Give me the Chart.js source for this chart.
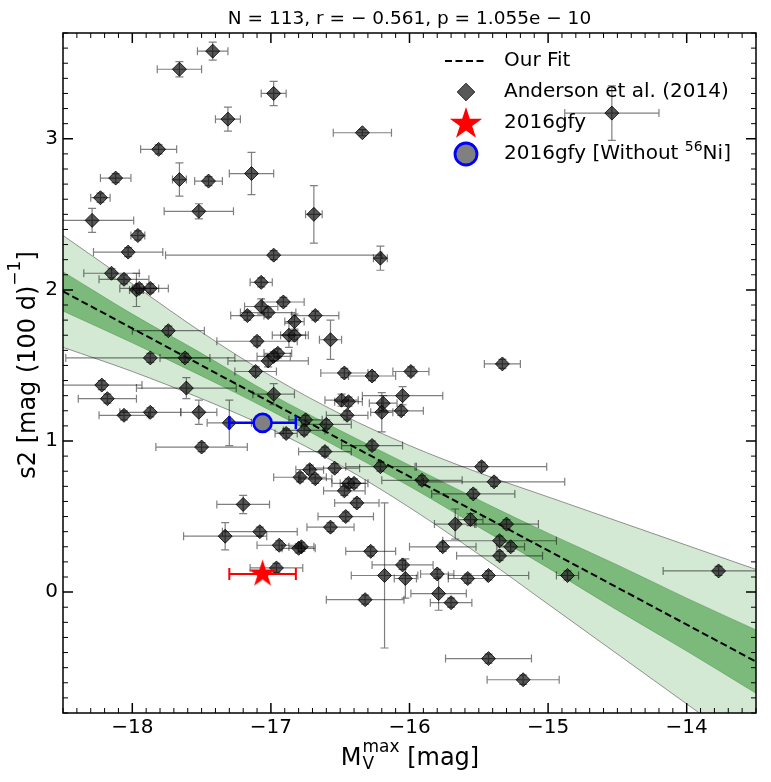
<!DOCTYPE html>
<html>
<head>
<meta charset="utf-8">
<script src="https://cdn.jsdelivr.net/npm/chart.js@4.4.0/dist/chart.umd.min.js"></script>
<style>
  html, body { margin: 0; padding: 0; background: #fff; }
  #wrap { width: 771px; height: 782px; position: relative; }
</style>
</head>
<body>
<div id="wrap"><canvas id="s2Chart"></canvas></div>
<script>
// Anderson et al. (2014): peak V magnitude, s2 decline and their errors
const andersonMv = [
  -17.42, -17.66, -16.98, -17.31, -16.34, -17.81, -17.66, -18.12, -17.45, -17.14,
  -18.23, -17.52, -16.69, -18.29, -17.96, -18.03, -16.98, -16.21, -14.54, -18.15,
  -18.06, -17.97, -17.95, -17.87, -17.07, -16.91, -17.07, -17.02, -17.17, -16.68,
  -16.83, -16.87, -16.83, -16.57, -17.10, -17.74, -16.95, -17.02, -16.98, -17.87,
  -17.62, -17.11, -18.22, -17.61, -18.18, -16.98, -18.06, -17.87, -17.52, -17.30,
  -17.50, -16.89, -16.75, -16.76, -16.60, -16.47, -16.27, -15.99, -16.49, -16.44,
  -16.19, -16.05, -16.45, -16.20, -16.06, -16.27, -16.61, -16.72, -16.54, -16.21,
  -16.79, -16.68, -15.91, -15.33, -15.48, -15.39, -16.44, -16.40, -16.47, -16.38,
  -15.54, -16.46, -16.57, -15.67, -15.56, -15.30, -15.35, -15.27, -15.35, -15.76,
  -14.86, -13.77, -16.78, -16.80, -16.28, -16.05, -16.18, -16.03, -15.80, -15.58,
  -15.43, -15.79, -15.70, -16.32, -17.20, -17.33, -17.08, -16.94, -16.96, -15.43,
  -15.18
];
const andersonS2 = [
  3.58, 3.46, 3.30, 3.13, 3.04, 2.93, 2.73, 2.74, 2.72, 2.77,
  2.61, 2.52, 2.50, 2.46, 2.36, 2.25, 2.23, 2.21, 3.17, 2.11,
  2.07, 2.00, 2.01, 2.01, 2.05, 1.92, 1.89, 1.85, 1.83, 1.83,
  1.79, 1.70, 1.70, 1.67, 1.66, 1.73, 1.58, 1.53, 1.56, 1.55,
  1.55, 1.46, 1.37, 1.35, 1.28, 1.31, 1.17, 1.19, 1.19, 1.12,
  0.96, 1.05, 1.14, 1.07, 1.11, 1.45, 1.43, 1.46, 1.27, 1.26,
  1.25, 1.30, 1.17, 1.19, 1.20, 0.97, 0.93, 0.81, 0.82, 0.83,
  0.76, 0.75, 0.74, 1.51, 0.83, 0.73, 0.72, 0.72, 0.67, 0.59,
  0.65, 0.50, 0.43, 0.45, 0.48, 0.45, 0.34, 0.30, 0.24, 0.30,
  0.11, 0.14, 0.30, 0.29, 0.27, 0.18, 0.11, 0.09, 0.12, 0.09,
  0.11, -0.01, -0.07, -0.05, 0.58, 0.37, 0.40, 0.31, 0.16, -0.44,
  -0.58
];
const andersonMvErr = [
  0.11, 0.16, 0.09, 0.09, 0.21, 0.13, 0.05, 0.11, 0.10, 0.16,
  0.07, 0.25, 0.06, 0.30, 0.05, 0.25, 0.78, 0.05, 0.34, 0.20,
  0.18, 0.05, 0.14, 0.13, 0.08, 0.15, 0.12, 0.20, 0.12, 0.17,
  0.07, 0.12, 0.10, 0.08, 0.29, 0.26, 0.10, 0.29, 0.12, 0.61,
  0.18, 0.15, 0.29, 0.36, 0.21, 0.15, 0.18, 0.22, 0.13, 0.16,
  0.33, 0.08, 0.12, 0.15, 0.18, 0.17, 0.17, 0.13, 0.12, 0.10,
  0.10, 0.29, 0.15, 0.08, 0.16, 0.22, 0.19, 0.10, 0.18, 0.25,
  0.19, 0.12, 0.29, 0.13, 0.47, 0.51, 0.12, 0.10, 0.15, 0.16,
  0.30, 0.20, 0.17, 0.15, 0.09, 0.23, 0.41, 0.10, 0.31, 0.24,
  0.08, 0.40, 0.09, 0.12, 0.18, 0.22, 0.24, 0.08, 0.12, 0.14,
  0.29, 0.20, 0.15, 0.28, 0.19, 0.30, 0.27, 0.16, 0.19, 0.31,
  0.26
];
const andersonS2Err = [
  0.06, 0.05, 0.08, 0.08, 0.02, 0.03, 0.11, 0.03, 0.03, 0.14,
  0.03, 0.05, 0.19, 0.08, 0.03, 0.03, 0.03, 0.08, 0.18, 0.03,
  0.03, 0.11, 0.03, 0.03, 0.03, 0.03, 0.05, 0.03, 0.03, 0.03,
  0.05, 0.08, 0.03, 0.13, 0.03, 0.03, 0.03, 0.04, 0.03, 0.03,
  0.03, 0.03, 0.03, 0.07, 0.03, 0.07, 0.03, 0.03, 0.08, 0.15,
  0.03, 0.03, 0.03, 0.03, 0.03, 0.03, 0.03, 0.03, 0.04, 0.03,
  0.05, 0.06, 0.03, 0.13, 0.03, 0.03, 0.03, 0.03, 0.03, 0.03,
  0.03, 0.03, 0.03, 0.03, 0.03, 0.03, 0.03, 0.03, 0.03, 0.03,
  0.03, 0.03, 0.03, 0.10, 0.04, 0.03, 0.03, 0.03, 0.03, 0.03,
  0.03, 0.03, 0.03, 0.03, 0.03, 0.03, 0.48, 0.13, 0.03, 0.03,
  0.03, 0.11, 0.03, 0.03, 0.06, 0.09, 0.03, 0.03, 0.03, 0.03,
  0.03
];

// 2016gfy, with and without the 56Ni contribution
const gfyMv = [-17.06];
const gfyMvErr = [0.24];
const gfyS2 = [0.12];
const gfyNoNiS2 = [1.12];

// linear fit and its two confidence bands
const fitX = [-18.5, -13.5];
const fitY = [1.99, -0.46];
const bandX = [-18.5, -18, -17.5, -17, -16.5, -16, -15.5, -15, -14.5, -14, -13.5];
const outerUpper = [2.36, 2.04, 1.72, 1.43, 1.18, 0.97, 0.79, 0.63, 0.47, 0.31, 0.15];
const outerLower = [1.62, 1.46, 1.28, 1.08, 0.84, 0.56, 0.25, -0.08, -0.41, -0.74, -1.07];
const innerUpper = [2.12, 1.84, 1.58, 1.31, 1.07, 0.84, 0.61, 0.39, 0.18, -0.04, -0.25];
const innerLower = [1.86, 1.65, 1.43, 1.20, 0.95, 0.70, 0.43, 0.16, -0.12, -0.39, -0.67];

// axes
const xTicks = [-18, -17, -16, -15, -14];
const yTicks = [0, 1, 2, 3];
const plotTitle = 'N = 113, r = \u2212 0.561, p = 1.055e \u2212 10';
const legendLabels = ['Our Fit', 'Anderson et al. (2014)', '2016gfy', '2016gfy [Without '];

const FONT = '"DejaVu Sans", sans-serif';
const toPoints = (xs, ys) => xs.map((v, i) => ({ x: v, y: ys[i] }));
const minus = v => String(v).replace('-', '\u2212');

function starPath(ctx, cx, cy, R) {
  const r = R * 0.381966;
  ctx.beginPath();
  for (let k = 0; k < 10; k++) {
    const ang = -Math.PI / 2 + k * Math.PI / 5;
    const rr = k % 2 === 0 ? R : r;
    const px = cx + rr * Math.cos(ang), py = cy + rr * Math.sin(ang);
    if (k === 0) ctx.moveTo(px, py); else ctx.lineTo(px, py);
  }
  ctx.closePath();
}

function makeStar(R) {
  const c = document.createElement('canvas');
  const s = Math.ceil(R * 2 + 2);
  c.width = s; c.height = s;
  const g = c.getContext('2d');
  starPath(g, s / 2, s / 2, R);
  g.fillStyle = '#ff0000';
  g.fill();
  return c;
}

// error bars, drawn through the scales
function drawErrors(chart, ds) {
  const { ctx, chartArea: a, scales: { x, y } } = chart;
  ctx.save();
  ctx.beginPath();
  ctx.rect(a.left, a.top, a.right - a.left, a.bottom - a.top);
  ctx.clip();
  ctx.strokeStyle = ds.errColor;
  ctx.lineWidth = ds.errWidth;
  const cap = ds.errCap;
  ds.data.forEach((p, i) => {
    const px = x.getPixelForValue(p.x), py = y.getPixelForValue(p.y);
    const xe = ds.xErr ? ds.xErr[i] : 0;
    const ye = ds.yErr ? ds.yErr[i] : 0;
    ctx.beginPath();
    if (xe) {
      const l = x.getPixelForValue(p.x - xe), r = x.getPixelForValue(p.x + xe);
      ctx.moveTo(l, py); ctx.lineTo(r, py);
      ctx.moveTo(l, py - cap); ctx.lineTo(l, py + cap);
      ctx.moveTo(r, py - cap); ctx.lineTo(r, py + cap);
    }
    if (ye) {
      const t = y.getPixelForValue(p.y + ye), b = y.getPixelForValue(p.y - ye);
      ctx.moveTo(px, t); ctx.lineTo(px, b);
      ctx.moveTo(px - cap, t); ctx.lineTo(px + cap, t);
      ctx.moveTo(px - cap, b); ctx.lineTo(px + cap, b);
    }
    ctx.stroke();
  });
  ctx.restore();
}

const errorBars = {
  id: 'errorBars',
  beforeDatasetDraw(chart, args) {
    const ds = chart.data.datasets[args.index];
    if (ds.errColor && !ds.errOnTop) drawErrors(chart, ds);
  },
  afterDatasetDraw(chart, args) {
    const ds = chart.data.datasets[args.index];
    if (ds.errColor && ds.errOnTop) drawErrors(chart, ds);
  }
};

// inward ticks on all four sides plus the frame
const frameTicks = {
  id: 'frameTicks',
  afterDatasetsDraw(chart) {
    const { ctx, chartArea: a, scales: { x, y } } = chart;
    ctx.save();
    ctx.strokeStyle = '#000';
    for (let i = Math.ceil(x.min * 10 - 1e-6); i <= Math.floor(x.max * 10 + 1e-6); i++) {
      const major = i % 10 === 0;
      const len = major ? 10 : 5;
      const px = x.getPixelForValue(i / 10);
      ctx.lineWidth = major ? 1.5 : 1;
      ctx.beginPath();
      ctx.moveTo(px, a.bottom); ctx.lineTo(px, a.bottom - len);
      ctx.moveTo(px, a.top); ctx.lineTo(px, a.top + len);
      ctx.stroke();
    }
    for (let i = Math.ceil(y.min * 10 - 1e-6); i <= Math.floor(y.max * 10 + 1e-6); i++) {
      const major = i % 10 === 0;
      const len = major ? 10 : 5;
      const py = y.getPixelForValue(i / 10);
      ctx.lineWidth = major ? 1.5 : 1;
      ctx.beginPath();
      ctx.moveTo(a.left, py); ctx.lineTo(a.left + len, py);
      ctx.moveTo(a.right, py); ctx.lineTo(a.right - len, py);
      ctx.stroke();
    }
    ctx.lineWidth = 1.5;
    ctx.strokeRect(a.left, a.top, a.right - a.left, a.bottom - a.top);
    ctx.restore();
  }
};

// title, axis titles (with sub/superscripts) and legend
const annotations = {
  id: 'annotations',
  afterDraw(chart) {
    const { ctx, chartArea: a } = chart;
    ctx.save();
    ctx.fillStyle = '#000';
    ctx.textBaseline = 'alphabetic';

    // title
    ctx.font = '18.5px ' + FONT;
    ctx.textAlign = 'center';
    ctx.fillText(plotTitle, (a.left + a.right) / 2, 24);

    // x axis title: M_V^max [mag]
    ctx.textAlign = 'left';
    const big = '24px ' + FONT, small = '17px ' + FONT;
    ctx.font = big;
    const wM = ctx.measureText('M').width;
    const wRest = ctx.measureText(' [mag]').width;
    ctx.font = small;
    const wMax = ctx.measureText('max').width;
    const total = wM + wMax + wRest;
    let cx = (a.left + a.right) / 2 - total / 2;
    const base = 765;
    ctx.font = big; ctx.fillText('M', cx, base);
    cx += wM + 1;
    ctx.font = small;
    ctx.fillText('max', cx, base - 13);
    ctx.fillText('V', cx, base + 4);
    cx += wMax;
    ctx.font = big; ctx.fillText(' [mag]', cx, base);

    // y axis title: s2 [mag (100 d)^-1]
    ctx.save();
    ctx.translate(35, 0);
    ctx.rotate(-Math.PI / 2);
    ctx.font = big;
    const w1 = ctx.measureText('s2 [mag (100 d)').width;
    const w3 = ctx.measureText(']').width;
    ctx.font = small;
    const w2 = ctx.measureText('\u22121').width;
    let ty = -((a.top + a.bottom) / 2 - 8) - (w1 + w2 + w3) / 2;
    ctx.font = big; ctx.fillText('s2 [mag (100 d)', ty, 0);
    ty += w1;
    ctx.font = small; ctx.fillText('\u22121', ty, -15);
    ty += w2;
    ctx.font = big; ctx.fillText(']', ty, 0);
    ctx.restore();

    // legend
    const mx = 466, tx = 504;
    const rows = [61, 92, 123, 154];
    ctx.font = '20px ' + FONT;
    ctx.textBaseline = 'middle';
    // fit
    ctx.save();
    ctx.strokeStyle = '#000'; ctx.lineWidth = 2; ctx.setLineDash([7, 3.5]);
    ctx.beginPath(); ctx.moveTo(445, rows[0]); ctx.lineTo(487, rows[0]); ctx.stroke();
    ctx.restore();
    ctx.fillText(legendLabels[0], tx, rows[0]);
    // diamond
    ctx.beginPath();
    ctx.moveTo(mx - 8.8, rows[1]); ctx.lineTo(mx, rows[1] - 8.8);
    ctx.lineTo(mx + 8.8, rows[1]); ctx.lineTo(mx, rows[1] + 8.8); ctx.closePath();
    ctx.fillStyle = 'rgba(40,40,40,0.78)'; ctx.fill();
    ctx.strokeStyle = 'rgba(0,0,0,0.8)'; ctx.lineWidth = 1; ctx.stroke();
    ctx.fillStyle = '#000';
    ctx.fillText(legendLabels[1], tx, rows[1]);
    // star
    starPath(ctx, mx, rows[2] + 1, 17);
    ctx.fillStyle = '#ff0000'; ctx.fill();
    ctx.fillStyle = '#000';
    ctx.fillText(legendLabels[2], tx, rows[2]);
    // circle
    ctx.beginPath(); ctx.arc(mx, rows[3], 11, 0, Math.PI * 2);
    ctx.fillStyle = '#808080'; ctx.fill();
    ctx.strokeStyle = '#0000ff'; ctx.lineWidth = 2.8; ctx.stroke();
    ctx.fillStyle = '#000';
    let lx = tx;
    ctx.fillText(legendLabels[3], lx, rows[3]);
    lx += ctx.measureText(legendLabels[3]).width;
    ctx.font = '14px ' + FONT;
    ctx.fillText('56', lx, rows[3] - 7);
    lx += ctx.measureText('56').width;
    ctx.font = '20px ' + FONT;
    ctx.fillText('Ni]', lx, rows[3]);
    ctx.restore();
  }
};

const bandLine = (data, fill, bg, edge, order) => ({
  data, showLine: true, fill, backgroundColor: bg, borderColor: edge,
  borderWidth: 0.8, pointRadius: 0, cubicInterpolationMode: 'monotone', order
});

const ctx = document.getElementById('s2Chart').getContext('2d');
new Chart(ctx, {
  type: 'scatter',
  data: {
    datasets: [
      bandLine(toPoints(bandX, outerUpper), '+1', '#d4e9d4', 'rgba(90,90,90,0.8)', 10),
      bandLine(toPoints(bandX, outerLower), false, '#d4e9d4', 'rgba(90,90,90,0.8)', 9),
      bandLine(toPoints(bandX, innerUpper), '+1', '#7cba7c', 'rgba(70,140,70,0.6)', 8),
      bandLine(toPoints(bandX, innerLower), false, '#7cba7c', 'rgba(70,140,70,0.6)', 7),
      {
        data: toPoints(fitX, fitY), showLine: true, fill: false,
        borderColor: '#000', borderWidth: 2, borderDash: [7, 3.5], pointRadius: 0, order: 6
      },
      {
        data: toPoints(andersonMv, andersonS2),
        xErr: andersonMvErr, yErr: andersonS2Err,
        errColor: 'rgba(0,0,0,0.5)', errWidth: 1.2, errCap: 4, errOnTop: true,
        pointStyle: 'rectRot', pointRadius: 7,
        backgroundColor: 'rgba(40,40,40,0.78)', borderColor: 'rgba(0,0,0,0.8)', borderWidth: 1,
        order: 5
      },
      {
        data: toPoints(gfyMv, gfyNoNiS2), xErr: gfyMvErr,
        errColor: '#0000ff', errWidth: 2.5, errCap: 6.5,
        pointStyle: 'circle', pointRadius: 9,
        backgroundColor: '#808080', borderColor: '#0000ff', borderWidth: 2.6,
        order: 4
      },
      {
        data: toPoints(gfyMv, gfyS2), xErr: gfyMvErr,
        errColor: '#ff0000', errWidth: 2, errCap: 6,
        pointStyle: makeStar(14.5), pointRadius: 14,
        order: 3
      }
    ]
  },
  options: {
    responsive: true,
    maintainAspectRatio: false,
    animation: false,
    events: [],
    layout: { padding: { top: 33, right: 10, bottom: 0, left: 0 } },
    plugins: {
      legend: { display: false },
      title: { display: false },
      tooltip: { enabled: false }
    },
    scales: {
      x: {
        type: 'linear',
        min: -18.5,
        max: -13.5,
        afterBuildTicks: axis => { axis.ticks = xTicks.map(v => ({ value: v })); },
        afterFit: axis => { axis.height = 69; },
        grid: { display: false, drawTicks: false },
        border: { display: false },
        ticks: {
          color: '#000',
          padding: 3,
          maxRotation: 0,
          font: { family: FONT, size: 20 },
          callback: v => minus(v)
        }
      },
      y: {
        type: 'linear',
        min: -0.8,
        max: 3.7,
        afterBuildTicks: axis => { axis.ticks = yTicks.map(v => ({ value: v })); },
        afterFit: axis => { axis.width = 63; },
        grid: { display: false, drawTicks: false },
        border: { display: false },
        ticks: {
          color: '#000',
          padding: 5,
          font: { family: FONT, size: 20 },
          callback: v => minus(v)
        }
      }
    }
  },
  plugins: [errorBars, frameTicks, annotations]
});
</script>
</body>
</html>
